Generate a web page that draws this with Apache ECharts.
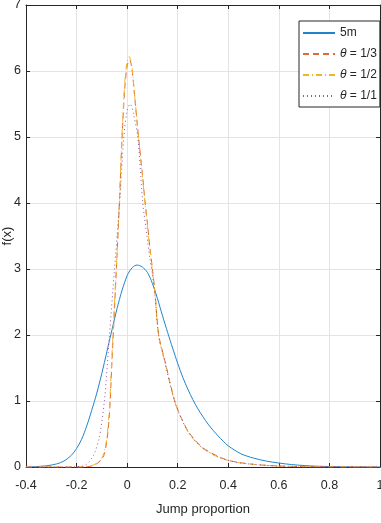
<!DOCTYPE html>
<html>
<head>
<meta charset="utf-8">
<script src="https://cdn.jsdelivr.net/npm/echarts@6/dist/echarts.min.js"></script>
<style>
  html, body { margin: 0; padding: 0; background: #fff; }
  #chart { width: 381px; height: 523px; }
</style>
</head>
<body>
<div id="chart"></div>
<script>
// values, [jump proportion, density]
const seriesNames = ['5m', 'θ = 1/3', 'θ = 1/2', 'θ = 1/1'];

const fiveMin = [
  [-0.40, 0], [-0.36, 0.006], [-0.32, 0.018], [-0.28, 0.045], [-0.25, 0.09], [-0.22, 0.18],
  [-0.20, 0.28], [-0.18, 0.42], [-0.16, 0.62], [-0.14, 0.86], [-0.12, 1.12], [-0.10, 1.42],
  [-0.08, 1.75], [-0.06, 2.08], [-0.04, 2.4], [-0.02, 2.68], [0.00, 2.9], [0.01, 2.97],
  [0.02, 3.02], [0.03, 3.05], [0.04, 3.06], [0.05, 3.05], [0.06, 3.03], [0.08, 2.95],
  [0.10, 2.78], [0.12, 2.55], [0.14, 2.29], [0.16, 2.04], [0.18, 1.8], [0.20, 1.57],
  [0.22, 1.36], [0.24, 1.18], [0.26, 1.02], [0.28, 0.88], [0.30, 0.76], [0.32, 0.65],
  [0.34, 0.555], [0.36, 0.47], [0.38, 0.39], [0.40, 0.32], [0.45, 0.2], [0.50, 0.135],
  [0.55, 0.09], [0.60, 0.06], [0.65, 0.037], [0.70, 0.022], [0.75, 0.012], [0.85, 0.004],
  [1.00, 0]
];

const theta13 = [
  [-0.40, 0], [-0.20, 0], [-0.16, 0.005], [-0.14, 0.015], [-0.12, 0.05], [-0.10, 0.12],
  [-0.09, 0.2], [-0.08, 0.4], [-0.07, 0.8], [-0.06, 1.6], [-0.05, 2.4], [-0.04, 3.2],
  [-0.03, 4.05], [-0.02, 5.0], [-0.01, 5.7], [0.00, 6.08], [0.01, 6.17], [0.02, 6.0],
  [0.03, 5.6], [0.045, 5.0], [0.06, 4.45], [0.07, 4.05], [0.08, 3.7], [0.09, 3.33],
  [0.10, 3.0], [0.11, 2.65], [0.125, 2.0], [0.15, 1.6], [0.17, 1.27], [0.19, 0.98],
  [0.21, 0.78], [0.24, 0.55], [0.27, 0.4], [0.30, 0.29], [0.33, 0.22], [0.36, 0.16],
  [0.40, 0.1], [0.45, 0.065], [0.50, 0.04], [0.55, 0.025], [0.60, 0.015], [0.70, 0.005],
  [0.80, 0.002], [1.00, 0]
];

const theta12 = [
  [-0.40, 0], [-0.20, 0], [-0.16, 0.005], [-0.14, 0.02], [-0.12, 0.06], [-0.10, 0.14],
  [-0.09, 0.24], [-0.08, 0.45], [-0.07, 0.9], [-0.06, 1.7], [-0.05, 2.5], [-0.04, 3.25],
  [-0.03, 4.1], [-0.02, 5.05], [-0.01, 5.8], [0.00, 6.15], [0.008, 6.22], [0.02, 6.02],
  [0.03, 5.62], [0.045, 5.0], [0.06, 4.42], [0.07, 4.02], [0.08, 3.66], [0.09, 3.3],
  [0.10, 2.97], [0.11, 2.62], [0.125, 1.98], [0.15, 1.58], [0.17, 1.25], [0.19, 0.97],
  [0.21, 0.77], [0.24, 0.54], [0.27, 0.39], [0.30, 0.28], [0.33, 0.21], [0.36, 0.15],
  [0.40, 0.1], [0.45, 0.06], [0.50, 0.04], [0.55, 0.024], [0.60, 0.014], [0.70, 0.005],
  [0.80, 0.002], [1.00, 0]
];

const theta11 = [
  [-0.40, 0], [-0.22, 0], [-0.20, 0.005], [-0.17, 0.02], [-0.15, 0.08], [-0.13, 0.2],
  [-0.11, 0.45], [-0.09, 1.0], [-0.07, 2.0], [-0.05, 3.0], [-0.03, 4.0], [-0.013, 5.0],
  [0.00, 5.4], [0.012, 5.5], [0.025, 5.35], [0.042, 5.0], [0.062, 4.0], [0.08, 3.45],
  [0.09, 3.15], [0.10, 2.92], [0.11, 2.6], [0.125, 1.98], [0.15, 1.58], [0.17, 1.25],
  [0.19, 0.97], [0.21, 0.77], [0.24, 0.54], [0.27, 0.39], [0.30, 0.28], [0.33, 0.21],
  [0.36, 0.15], [0.40, 0.1], [0.45, 0.06], [0.50, 0.04], [0.55, 0.024], [0.60, 0.014],
  [0.70, 0.005], [0.80, 0.002], [1.00, 0]
];

const xTicks = { min: -0.4, max: 1, interval: 0.2 };
const yTicks = { min: 0, max: 7, interval: 1 };

const FONT = "'Liberation Sans Narrow', 'Liberation Sans', Arial, sans-serif";
const AXIS = '#262626';
const GRID = '#e4e4e4';

const chart = echarts.init(document.getElementById('chart'));

// top/right copies of the axes give the matlab style box with inward ticks
const boxAxis = (pos, t) => ({
  type: 'value', position: pos, min: t.min, max: t.max, interval: t.interval,
  axisLine: { show: true, onZero: false, lineStyle: { color: AXIS, width: 1 } },
  axisTick: { show: true, inside: true, length: 4, lineStyle: { color: AXIS } },
  axisLabel: { show: false },
  splitLine: { show: false }
});

function line(name, data, color, type) {
  return {
    name, type: 'line', data,
    showSymbol: false, symbol: 'none',
    smooth: 0.3,
    lineStyle: { color, width: 1, type },
    itemStyle: { color },
    z: 3
  };
}

chart.setOption({
  animation: false,
  textStyle: { fontFamily: FONT },
  grid: { left: 26, right: 1, top: 5, bottom: 56, containLabel: false, outerBoundsMode: 'none' },
  legend: {
    orient: 'vertical',
    left: 299, top: 21,
    padding: [6, 3, 5, 3],
    itemWidth: 32, itemHeight: 14, itemGap: 9,
    itemStyle: { opacity: 0 },
    backgroundColor: '#fff',
    borderColor: AXIS, borderWidth: 1,
    data: seriesNames,
    formatter: n => n.startsWith('θ') ? '{i|θ}' + n.slice(1) : n,
    textStyle: {
      color: AXIS, fontSize: 12, fontFamily: FONT,
      rich: { i: { fontStyle: 'italic', fontSize: 12, fontFamily: FONT, color: AXIS } }
    }
  },
  xAxis: [
    {
      type: 'value', min: xTicks.min, max: xTicks.max, interval: xTicks.interval,
      name: 'Jump proportion', nameLocation: 'middle', nameGap: 36,
      nameTextStyle: { color: AXIS, fontSize: 13, fontFamily: FONT },
      axisLine: { show: true, onZero: false, lineStyle: { color: AXIS, width: 1 } },
      axisTick: { show: true, inside: true, length: 4, lineStyle: { color: AXIS } },
      axisLabel: { color: AXIS, fontSize: 12.5, margin: 12, fontFamily: FONT },
      splitLine: { show: true, lineStyle: { color: GRID, width: 1 } }
    },
    boxAxis('top', xTicks)
  ],
  yAxis: [
    {
      type: 'value', min: yTicks.min, max: yTicks.max, interval: yTicks.interval,
      name: 'f(x)', nameLocation: 'middle', nameGap: 12, nameMoveOverlap: false,
      nameTextStyle: { color: AXIS, fontSize: 13, fontFamily: FONT },
      axisLine: { show: true, onZero: false, lineStyle: { color: AXIS, width: 1 } },
      axisTick: { show: true, inside: true, length: 4, lineStyle: { color: AXIS } },
      axisLabel: { color: AXIS, fontSize: 12.5, margin: 5, fontFamily: FONT },
      splitLine: { show: true, lineStyle: { color: GRID, width: 1 } }
    },
    boxAxis('right', yTicks)
  ],
  series: [
    line(seriesNames[0], fiveMin, '#1f84cc', 'solid'),
    line(seriesNames[1], theta13, '#e06a32', [6, 4]),
    line(seriesNames[2], theta12, '#efb62c', [6, 3, 1, 3]),
    line(seriesNames[3], theta11, '#9457a2', [1, 3])
  ]
});
</script>
</body>
</html>
